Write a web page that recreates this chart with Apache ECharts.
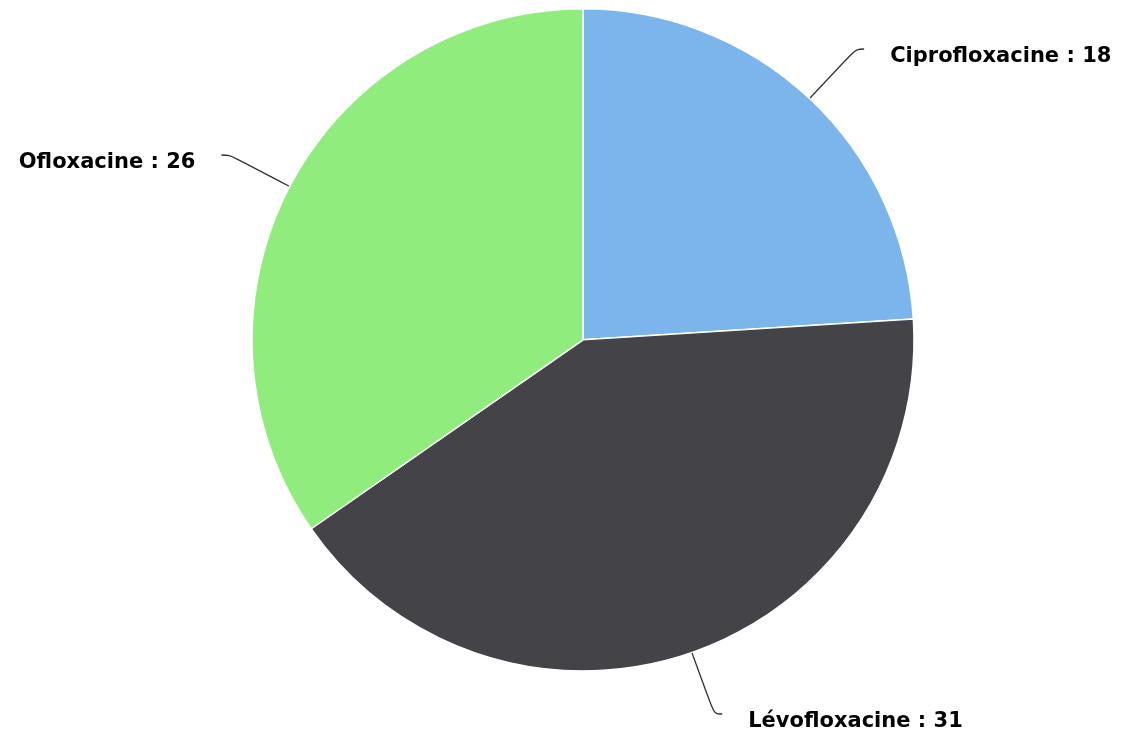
<!DOCTYPE html>
<html>
<head>
<meta charset="utf-8">
<script src="https://cdn.jsdelivr.net/npm/echarts@6/dist/echarts.min.js"></script>
<style>html,body{margin:0;padding:0;background:#fff;}#c{width:1127px;height:734px;}</style>
</head>
<body>
<div id="c"></div>
<script>
var categories = ['Ciprofloxacine', 'Lévofloxacine', 'Ofloxacine'];
var values = [18, 31, 26];
var colors = ['#7cb5ec', '#434348', '#90ed7d'];

var chart = echarts.init(document.getElementById('c'));
chart.setOption({
  animation: false,
  backgroundColor: '#ffffff',
  series: [{
    type: 'pie',
    center: ['51.73%', '46.3%'],
    radius: 331,
    startAngle: 90,
    clockwise: true,
    data: categories.map(function (n, i) {
      return { name: n, value: values[i], itemStyle: { color: colors[i] } };
    }),
    itemStyle: { borderColor: '#ffffff', borderWidth: 1.5 },
    label: {
      show: true,
      formatter: '{t|{b} : {c}}',
      color: '#000000',
      textBorderColor: '#ffffff',
      textBorderWidth: 1,
      distanceToLabelLine: 26,
      rich: {
        t: {
          fontFamily: 'DejaVu Sans, Verdana, sans-serif',
          fontWeight: 'bold',
          fontSize: 21,
          color: '#000000',
          padding: [16, 0, 0, 0]
        }
      }
    },
    labelLine: {
      show: true,
      length: 68,
      length2: 8,
      smooth: 0.4,
      lineStyle: { color: '#333333', width: 1.3 }
    }
  }]
});
</script>
</body>
</html>
